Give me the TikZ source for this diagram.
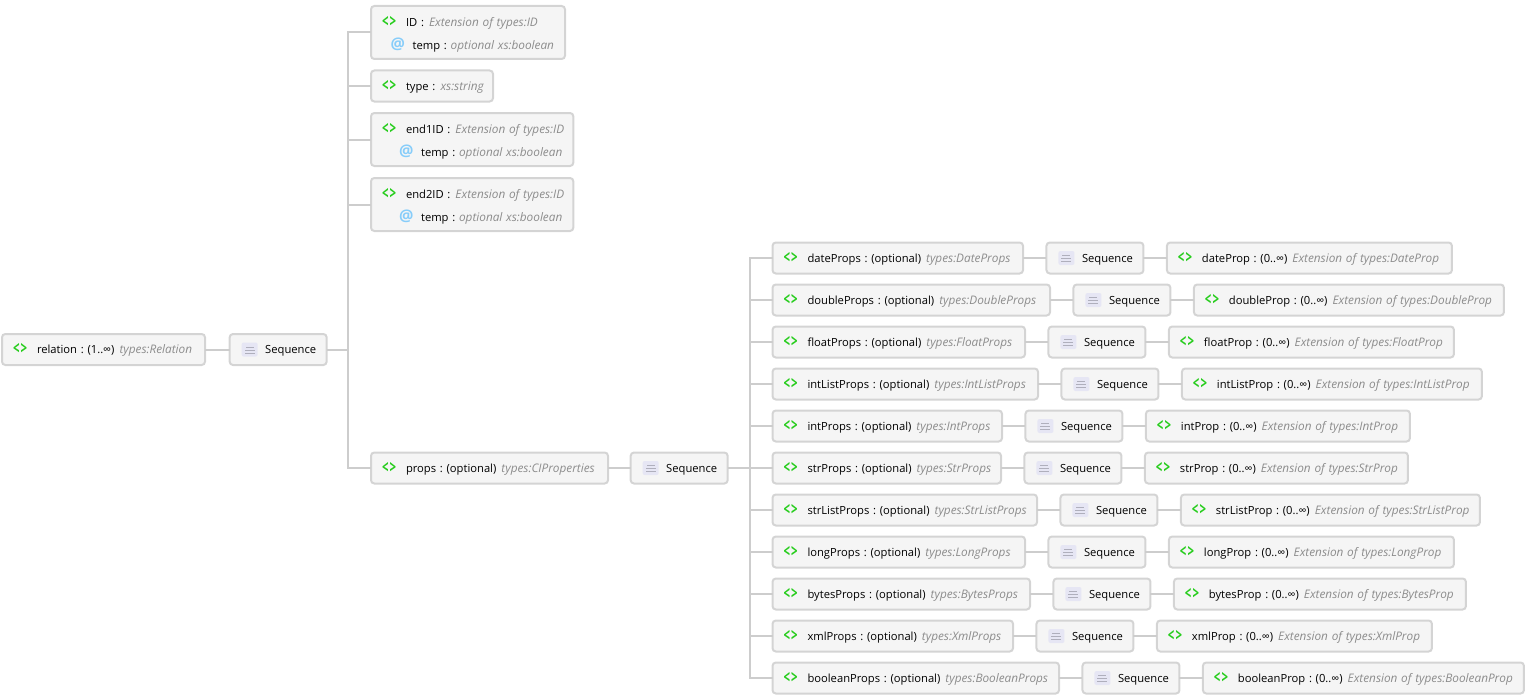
\documentclass[tikz,border=0pt]{standalone}
\usepackage{fontspec}
\setmainfont{Open Sans}
\usepackage{xcolor}
\usetikzlibrary{positioning}
\definecolor{boxfill}{RGB}{245,245,245}
\definecolor{boxline}{RGB}{212,212,212}
\definecolor{wire}{RGB}{205,205,205}
\definecolor{elgreen}{RGB}{40,205,30}
\definecolor{atblue}{RGB}{135,205,250}
\definecolor{typegray}{RGB}{140,140,140}
\definecolor{seqfill}{RGB}{230,230,244}
\definecolor{seqbar}{RGB}{175,175,188}
\newcommand{\elicon}{\makebox[18pt][l]{\raisebox{-0.9pt}{\textcolor{elgreen}{\scalebox{0.9}[1.4]{\fontsize{9.5}{9.5}\selectfont\bfseries\char`\<\kern1pt\char`\>}}}}}
\newcommand{\aticon}{\makebox[16.5pt][l]{\textcolor{atblue}{\fontsize{12}{12}\selectfont\bfseries @}}}
\newcommand{\tyname}[1]{\kern1pt\textcolor{typegray}{\fontsize{8.85}{17.25}\selectfont\itshape #1}}
\begin{document}
\begin{tikzpicture}[x=0.75pt,y=-0.75pt,font=\fontsize{8.4}{17.25}\selectfont\frenchspacing]
\tikzset{
  xbox/.style={draw=boxline,line width=1.5pt,fill=boxfill,rounded corners=2.5pt,outer sep=0pt,inner xsep=8.25pt,inner ysep=0pt,align=left},
  onerow/.style={xbox,minimum height=23.25pt,text height=7.3pt,text depth=1pt},
  tworow/.style={xbox,minimum height=39.75pt,text height=10pt},
  seqbox/.style={onerow,text width=56.25pt,minimum width=72.75pt},
  wireline/.style={draw=wire,line width=1.5pt},
  seqicon/.pic={
    \fill[seqfill,rounded corners=1.5pt] (-8,-7) rectangle (8,7);
    \fill[seqbar] (-4,-3) rectangle (4,-2);
    \fill[seqbar] (-5,0) rectangle (5,1);
    \fill[seqbar] (-5,3) rectangle (5,4);
  }
}
\useasboundingbox (0,0) rectangle (1526,699);
% left part
\node[onerow,anchor=west,text width=135.75pt] (relation) at (2,349.5) {\mbox{\elicon relation : (1..∞) \tyname{types:Relation}}};
\node[seqbox,right=18.5pt of relation] (topseq) {\mbox{\hspace{18.4pt}Sequence}};
\pic at ([xshift=15pt]topseq.west) {seqicon};
\coordinate (topbus) at (348,349.5);
% children of the first sequence
\node[tworow,anchor=west,text width=129pt] (id) at (371,32.5) {\mbox{\elicon ID : \tyname{Extension of types:ID}}\\\hspace*{\fill}\mbox{\aticon temp :\kern-1pt\ \tyname{optional xs:boolean}}};
\node[onerow,anchor=west,text width=75pt] (type) at (371,86) {\mbox{\elicon type : \tyname{xs:string}}};
\node[tworow,anchor=west,text width=135.25pt] (endone) at (371,139.5) {\mbox{\elicon end1ID : \tyname{Extension of types:ID}}\\\hspace*{\fill}\mbox{\aticon temp :\kern-1pt\ \tyname{optional xs:boolean}}};
\node[tworow,anchor=west,text width=135.25pt] (endtwo) at (371,204.5) {\mbox{\elicon end2ID : \tyname{Extension of types:ID}}\\\hspace*{\fill}\mbox{\aticon temp :\kern-1pt\ \tyname{optional xs:boolean}}};
\node[onerow,anchor=west,text width=161.25pt] (props) at (371,468) {\mbox{\elicon props : (optional) \tyname{types:CIProperties}}};
\node[seqbox,right=17pt of props] (propseq) {\mbox{\hspace{18.4pt}Sequence}};
\pic at ([xshift=15pt]propseq.west) {seqicon};
\coordinate (propbus) at (750,468);
\draw[wireline] (relation) -- (topseq);
\draw[wireline] (topseq) -- (topbus);
\draw[wireline] (topbus) |- (id);
\draw[wireline] (topbus) |- (type);
\draw[wireline] (topbus) |- (endone);
\draw[wireline] (topbus) |- (endtwo);
\draw[wireline] (topbus) |- (props);
\draw[wireline] (props) -- (propseq);
\draw[wireline] (propseq) -- (propbus);
% the eleven property rows
\foreach \nm/\Ty/\y/\wa/\wc in {date/Date/258/250.5/285,double/Double/300/277.5/310,float/Float/342/252.5/285,intList/IntList/384/265.5/300,int/Int/426/229.5/264,str/Str/468/228.5/263,strList/StrList/510/264.5/299,long/Long/552/252.5/285,bytes/Bytes/594/257.5/292,xml/Xml/636/240.5/275,boolean/Boolean/678/286.5/321}{
  \node[onerow,anchor=west,text width={(\wa-22)*0.75pt}] (\nm-props) at (772.5,\y) {\mbox{\elicon \nm Props : (optional) \tyname{types:\Ty Props}}};
  \node[seqbox,right=17.6pt of \nm-props] (\nm-seq) {\mbox{\hspace{18.4pt}Sequence}};
  \pic at ([xshift=15pt]\nm-seq.west) {seqicon};
  \node[onerow,right=17.6pt of \nm-seq,text width={(\wc-22)*0.75pt}] (\nm-prop) {\mbox{\elicon \nm Prop : (0..∞) \tyname{Extension of types:\Ty Prop}}};
  \draw[wireline] (propbus) |- (\nm-props);
  \draw[wireline] (\nm-props) -- (\nm-seq);
  \draw[wireline] (\nm-seq) -- (\nm-prop);
}
\end{tikzpicture}
\end{document}
